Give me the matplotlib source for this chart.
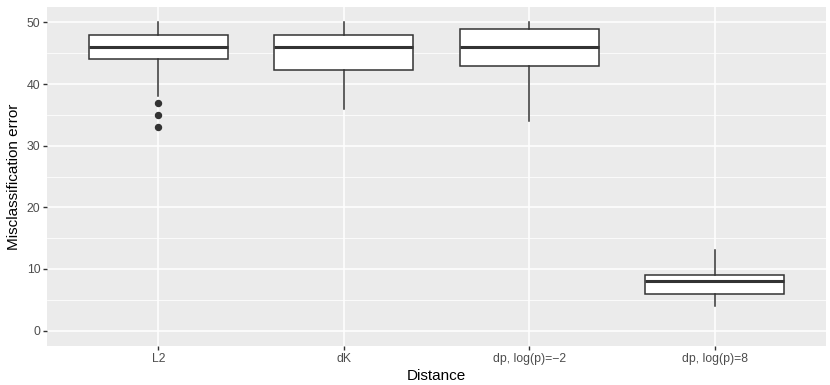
import matplotlib.pyplot as plt
from matplotlib.ticker import MultipleLocator

plt.rcParams['font.family'] = ['Liberation Sans', 'DejaVu Sans']

distances = ["L2", "dK", "dp, log(p)=\u22122", "dp, log(p)=8"]
q1 = [44, 42.25, 43, 6]
med = [46, 46, 46, 8]
q3 = [48, 48, 49, 9]
whislo = [38, 36, 34, 4]
whishi = [50, 50, 50, 13]
outliers = [[37, 35, 33], [], [], []]

stats = []
for i, name in enumerate(distances):
    stats.append(dict(label=name, q1=q1[i], med=med[i], q3=q3[i],
                      whislo=whislo[i], whishi=whishi[i], fliers=outliers[i]))

fig = plt.figure(figsize=(8.3, 3.85), dpi=100)
ax = fig.add_axes([47/830, 39/385, 779/830, 339/385])
ax.set_facecolor("#EBEBEB")

line = dict(color="#333333", linewidth=1.1)
ax.bxp(stats, positions=range(1, 5), widths=0.75, patch_artist=True,
       showcaps=False,
       boxprops=dict(facecolor="white", edgecolor="#333333", linewidth=1.1),
       medianprops=dict(color="#333333", linewidth=2.2),
       whiskerprops=line,
       flierprops=dict(marker="o", markerfacecolor="#333333",
                       markeredgecolor="#333333", markersize=4.3),
       zorder=3)

ax.set_xlim(0.4, 4.6)
ax.set_ylim(-2.5, 52.5)
ax.yaxis.set_major_locator(MultipleLocator(10))
ax.yaxis.set_minor_locator(MultipleLocator(5))
ax.grid(which="major", color="white", linewidth=1.1)
ax.grid(which="minor", axis="y", color="white", linewidth=0.55)
ax.set_axisbelow(True)
for s in ax.spines.values():
    s.set_visible(False)

ax.tick_params(which="major", length=2.75, width=1.0, color="#333333",
               labelcolor="#4D4D4D", labelsize=8.8, pad=2)
ax.tick_params(which="minor", length=0)
ax.set_xticks(range(1, 5))
ax.set_xticklabels(distances)

ax.set_xlabel("Distance", fontsize=11, labelpad=3)
ax.set_ylabel("Misclassification error", fontsize=11, labelpad=4)

fig.savefig("out.png", dpi=100)
